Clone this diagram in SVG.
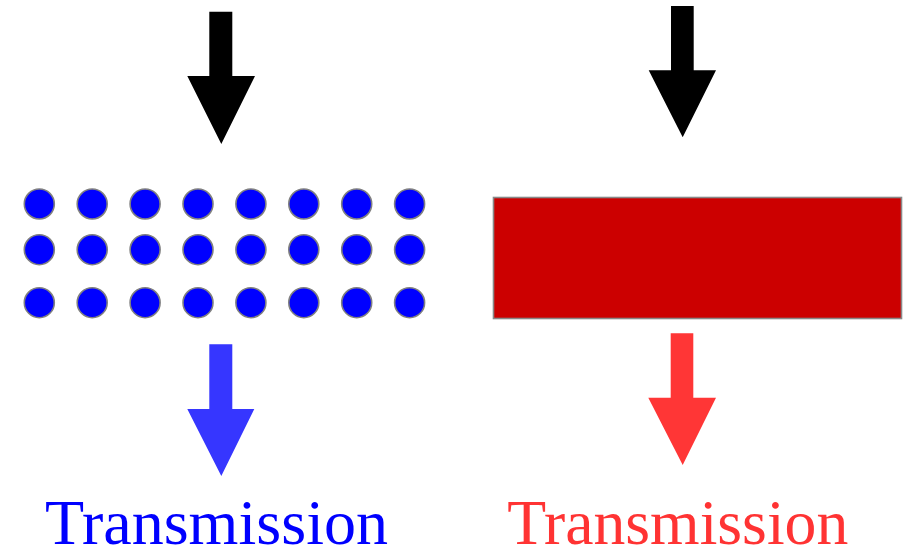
<svg xmlns="http://www.w3.org/2000/svg" width="913" height="550" viewBox="0 0 913 550">
  <style>
    .dot { fill: #0000ff; stroke: #808080; stroke-width: 1.6; }
    .label { font-family: "Liberation Serif", "Times New Roman", serif; font-size: 63.5px; }
  </style>
  <defs>
    <circle id="d" r="15" class="dot"/>
  </defs>
  <rect width="913" height="550" fill="#ffffff"/>
  <g id="connectors">
    <polygon id="arrow-in-left" fill="#000000" points="209.3,11.7 232.3,11.7 232.3,76 255,76 221.3,144 187.3,76 209.3,76"/>
    <polygon id="arrow-in-right" fill="#000000" points="671,6 693.7,6 693.7,70.3 716,70.3 682.7,137.3 648.7,70.3 671,70.3"/>
    <polygon id="arrow-out-left" fill="#3636ff" points="209.3,344.3 232.3,344.3 232.3,409 254.3,409 221.3,476 187.3,409 209.3,409"/>
    <polygon id="arrow-out-right" fill="#ff3636" points="670.7,333.3 693.3,333.3 693.3,397.7 716,397.7 682.7,465 648.3,397.7 670.7,397.7"/>
  </g>
  <g id="dots">
    <g id="row1">
      <use href="#d" x="39.3" y="204"/><use href="#d" x="92.2" y="204"/><use href="#d" x="145.1" y="204"/><use href="#d" x="198" y="204"/>
      <use href="#d" x="250.9" y="204"/><use href="#d" x="303.8" y="204"/><use href="#d" x="356.7" y="204"/><use href="#d" x="409.6" y="204"/>
    </g>
    <g id="row2">
      <use href="#d" x="39.3" y="249.7"/><use href="#d" x="92.2" y="249.7"/><use href="#d" x="145.1" y="249.7"/><use href="#d" x="198" y="249.7"/>
      <use href="#d" x="250.9" y="249.7"/><use href="#d" x="303.8" y="249.7"/><use href="#d" x="356.7" y="249.7"/><use href="#d" x="409.6" y="249.7"/>
    </g>
    <g id="row3">
      <use href="#d" x="39.3" y="302.7"/><use href="#d" x="92.2" y="302.7"/><use href="#d" x="145.1" y="302.7"/><use href="#d" x="198" y="302.7"/>
      <use href="#d" x="250.9" y="302.7"/><use href="#d" x="303.8" y="302.7"/><use href="#d" x="356.7" y="302.7"/><use href="#d" x="409.6" y="302.7"/>
    </g>
  </g>
  <g id="slab">
    <rect x="493.5" y="197.5" width="408" height="121" fill="#cc0000" stroke="#888888" stroke-width="1.6"/>
  </g>
  <g id="label-left">
    <text class="label" x="45" y="544" fill="#0000ff" textLength="343" lengthAdjust="spacingAndGlyphs">Transmission</text>
  </g>
  <g id="label-right">
    <text class="label" x="507.3" y="544" fill="#ff3333" textLength="341" lengthAdjust="spacingAndGlyphs">Transmission</text>
  </g>
</svg>
